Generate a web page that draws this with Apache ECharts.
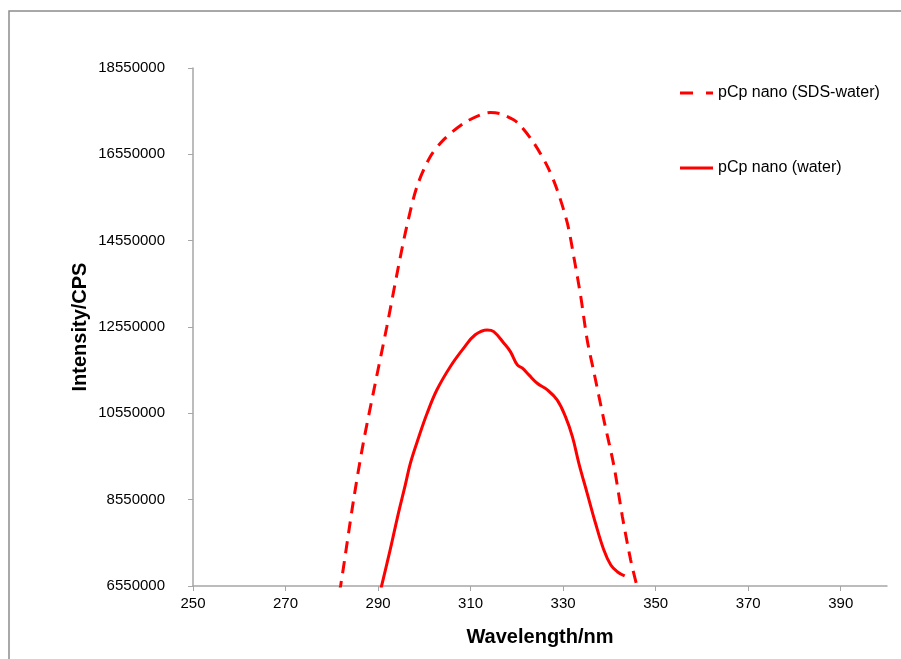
<!DOCTYPE html>
<html>
<head>
<meta charset="utf-8">
<title>pCp nano emission</title>
<script src="https://cdn.jsdelivr.net/npm/echarts@6/dist/echarts.min.js"></script>
<style>
  html, body { margin: 0; padding: 0; background: #ffffff; }
  #chart { width: 901px; height: 659px; }
</style>
</head>
<body>
<div id="chart"></div>
<script>
// Emission spectra of pCp nanoparticles (wavelength in nm, intensity in CPS)
const sdsWavelength = [281.5, 281.9, 284.7, 286.8, 289.4, 291.9, 294.4, 296.2, 298.4, 301.3, 304.2, 308.5, 312.1, 314.3, 316.5, 319.3, 320.8, 323.7, 326.6, 328.7, 330.9, 332.3, 333.8, 335.2, 336.7, 338.8, 341.0, 342.8, 344.6, 345.9, 346.2];
const sdsIntensity  = [6400000, 6550000, 8540000, 9860000, 11250000, 12560000, 13950000, 14880000, 15800000, 16500000, 16890000, 17270000, 17465000, 17518000, 17488000, 17350000, 17210000, 16810000, 16270000, 15730000, 14960000, 14180000, 13260000, 12250000, 11480000, 10400000, 9320000, 8160000, 7150000, 6570000, 6450000];

const waterWavelength = [290.6, 290.8, 292.6, 294.4, 295.9, 297.0, 298.8, 300.6, 302.7, 305.6, 308.5, 311.0, 313.6, 315.0, 317.2, 318.6, 320.1, 321.2, 322.6, 324.4, 326.6, 328.7, 330.5, 332.0, 333.4, 335.2, 337.0, 338.8, 340.3, 341.7, 343.3];
const waterIntensity  = [6480000, 6570000, 7380000, 8240000, 8900000, 9400000, 10000000, 10550000, 11090000, 11630000, 12060000, 12370000, 12483000, 12444000, 12175000, 11980000, 11672000, 11595000, 11440000, 11247000, 11092000, 10860000, 10474000, 10010000, 9393000, 8698000, 8003000, 7384000, 7037000, 6881000, 6782000];

const seriesNames = ['pCp nano (SDS-water)', 'pCp nano (water)'];
const xTicks = { min: 250, max: 400, step: 20 };
const yTicks = { min: 6550000, max: 18550000, step: 2000000 };

const pairs = (xs, ys) => xs.map((x, i) => [x, ys[i]]);

const chart = echarts.init(document.getElementById('chart'), null, { renderer: 'canvas' });

const axisGray = '#a6a6a6';
const fontFamily = 'Liberation Sans, Arial, sans-serif';
const labelFont = { fontFamily: fontFamily, fontSize: 15, color: '#000000' };

// legend keys: a short dash pattern and a plain bar
const dashedKey = 'path://M0,0H13V3H0Z M26,0H33V3H26Z';
const solidKey = 'path://M0,0H33V3H0Z';

const legendBase = {
  left: 675,
  itemWidth: 33, itemHeight: 3,
  textStyle: { fontFamily: fontFamily, fontSize: 16, color: '#000000' }
};

chart.setOption({
  backgroundColor: '#ffffff',
  animation: false,
  graphic: [{
    type: 'polyline',
    shape: { points: [[9, 700], [9, 11], [910, 11]] },
    style: { stroke: '#8c8c8c', lineWidth: 1.5, fill: null },
    silent: true
  }],
  grid: { left: 193, top: 68, right: 14, bottom: 73, containLabel: false },
  legend: [
    Object.assign({}, legendBase, {
      top: 80,
      data: [{ name: seriesNames[0], icon: dashedKey }]
    }),
    Object.assign({}, legendBase, {
      top: 155,
      data: [{ name: seriesNames[1], icon: solidKey }]
    })
  ],
  xAxis: {
    type: 'value',
    min: xTicks.min, max: xTicks.max, interval: xTicks.step,
    name: 'Wavelength/nm',
    nameLocation: 'middle',
    nameGap: 41,
    nameTextStyle: { fontFamily: fontFamily, fontSize: 20, fontWeight: 'bold', color: '#000000' },
    axisLine: { show: true, lineStyle: { color: axisGray, width: 1.5 } },
    axisTick: { show: true, inside: false, length: 5, lineStyle: { color: axisGray } },
    axisLabel: Object.assign({ margin: 10, showMaxLabel: false }, labelFont),
    splitLine: { show: false }
  },
  yAxis: {
    type: 'value',
    min: yTicks.min, max: yTicks.max, interval: yTicks.step,
    name: 'Intensity/CPS',
    nameLocation: 'middle',
    nameGap: 103,
    nameMoveOverlap: false,
    nameTextStyle: { fontFamily: fontFamily, fontSize: 20, fontWeight: 'bold', color: '#000000' },
    axisLine: { show: true, lineStyle: { color: axisGray, width: 1.5 } },
    axisTick: { show: true, inside: false, length: 5, lineStyle: { color: axisGray } },
    axisLabel: Object.assign({ margin: 28, formatter: v => String(v) }, labelFont),
    splitLine: { show: false }
  },
  series: [
    {
      name: seriesNames[0],
      type: 'line',
      data: pairs(sdsWavelength, sdsIntensity),
      smooth: 0.3,
      symbol: 'none',
      clip: true,
      color: '#ff0000',
      itemStyle: { color: '#ff0000' },
      lineStyle: { color: '#ff0000', width: 3, type: [12, 8] }
    },
    {
      name: seriesNames[1],
      type: 'line',
      data: pairs(waterWavelength, waterIntensity),
      smooth: 0.4,
      symbol: 'none',
      clip: true,
      color: '#ff0000',
      itemStyle: { color: '#ff0000' },
      lineStyle: { color: '#ff0000', width: 3, type: 'solid' }
    }
  ]
});
</script>
</body>
</html>
